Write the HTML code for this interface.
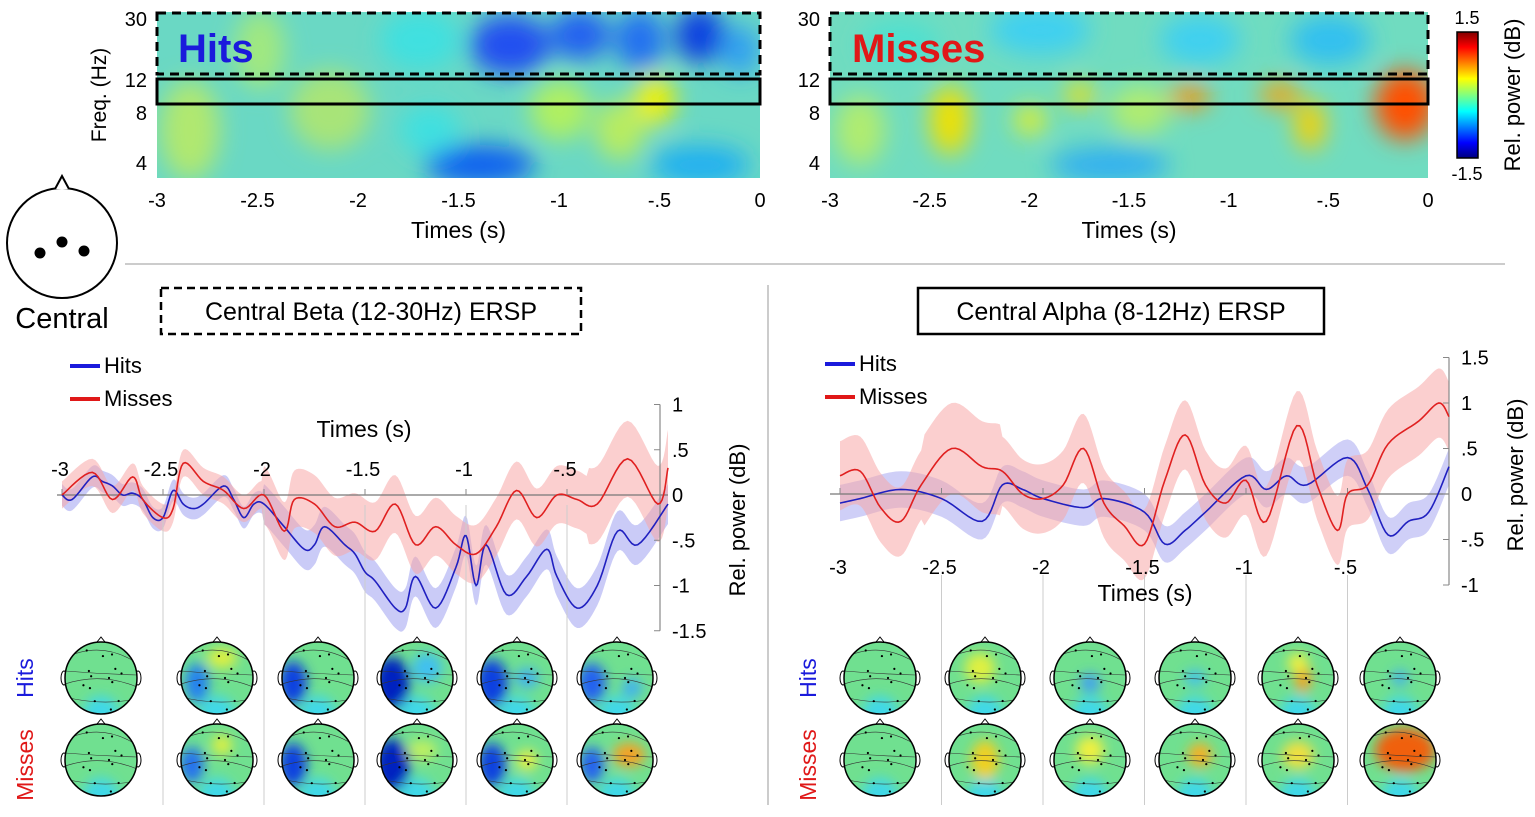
<!DOCTYPE html>
<html><head><meta charset="utf-8"><style>
body{margin:0;background:#fff;width:1535px;height:812px;overflow:hidden;font-family:"Liberation Sans",Arial,sans-serif}
svg text{font-family:"Liberation Sans",Arial,sans-serif}
</style></head><body>
<svg id="s" width="1535" height="812" viewBox="0 0 1535 812" xmlns="http://www.w3.org/2000/svg">
<defs>
<filter id="bl" x="-50%" y="-50%" width="200%" height="200%"><feGaussianBlur stdDeviation="12"/></filter>
<filter id="bl2" x="-50%" y="-50%" width="200%" height="200%"><feGaussianBlur stdDeviation="6"/></filter>
<clipPath id="c1"><rect x="157" y="12" width="603" height="166"/></clipPath>
<clipPath id="c2"><rect x="830" y="12" width="598" height="166"/></clipPath>
<linearGradient id="jet" x1="0" y1="0" x2="0" y2="1">
<stop offset="0" stop-color="#800000"/><stop offset="0.12" stop-color="#ff0000"/><stop offset="0.37" stop-color="#ffff00"/><stop offset="0.5" stop-color="#80ff80"/><stop offset="0.63" stop-color="#00ffff"/><stop offset="0.88" stop-color="#0000ff"/><stop offset="1" stop-color="#000080"/></linearGradient>
</defs>
<!-- spectrogram left -->
<g clip-path="url(#c1)">
<rect x="157" y="12" width="603" height="166" fill="#6ad8c4"/>
<g filter="url(#bl)">
<ellipse cx="190" cy="130" rx="30" ry="50" fill="#b0e870"/>
<ellipse cx="260" cy="50" rx="25" ry="40" fill="#a0e880"/>
<ellipse cx="330" cy="110" rx="40" ry="40" fill="#a8e478"/>
<ellipse cx="420" cy="40" rx="40" ry="30" fill="#40e0e0"/>
<ellipse cx="510" cy="45" rx="40" ry="30" fill="#2050f0"/>
<ellipse cx="580" cy="35" rx="30" ry="25" fill="#2060f0"/>
<ellipse cx="640" cy="40" rx="25" ry="30" fill="#2070f0"/>
<ellipse cx="700" cy="35" rx="25" ry="28" fill="#1040e0"/>
<ellipse cx="740" cy="50" rx="20" ry="25" fill="#30a0f0"/>
<ellipse cx="480" cy="165" rx="55" ry="20" fill="#1060f0"/>
<ellipse cx="700" cy="165" rx="50" ry="20" fill="#20b0f0"/>
<ellipse cx="655" cy="100" rx="20" ry="25" fill="#f0f000"/>
<ellipse cx="560" cy="110" rx="30" ry="30" fill="#b0f060"/>
<ellipse cx="620" cy="130" rx="25" ry="30" fill="#b8ec60"/>
<ellipse cx="430" cy="130" rx="30" ry="25" fill="#40e0e0"/>
</g></g>
<rect x="157" y="13" width="603" height="61" fill="none" stroke="#000" stroke-width="3" stroke-dasharray="9,6"/>
<rect x="157" y="79" width="603" height="25" fill="none" stroke="#000" stroke-width="3"/>
<text x="178" y="62" font-size="40" font-weight="bold" fill="#1a1adc">Hits</text>
<!-- spectrogram right -->
<g clip-path="url(#c2)">
<rect x="830" y="12" width="598" height="166" fill="#70dcc0"/>
<g filter="url(#bl)">
<ellipse cx="900" cy="45" rx="40" ry="25" fill="#50e0d0"/>
<ellipse cx="1040" cy="30" rx="50" ry="25" fill="#40d0f0"/>
<ellipse cx="1200" cy="40" rx="40" ry="25" fill="#40d0f0"/>
<ellipse cx="1330" cy="40" rx="40" ry="25" fill="#30c0f0"/>
<ellipse cx="1110" cy="165" rx="60" ry="18" fill="#30b0f0"/>
<ellipse cx="950" cy="120" rx="20" ry="35" fill="#f0e000"/>
<ellipse cx="1190" cy="97" rx="20" ry="12" fill="#ff9000"/>
<ellipse cx="1080" cy="95" rx="15" ry="12" fill="#f8e000"/>
<ellipse cx="1280" cy="95" rx="20" ry="12" fill="#ffa000"/>
<ellipse cx="1310" cy="125" rx="15" ry="25" fill="#f8d000"/>
<ellipse cx="1405" cy="105" rx="30" ry="35" fill="#ff5000"/>
<ellipse cx="1030" cy="120" rx="15" ry="15" fill="#e8f020"/>
<ellipse cx="1140" cy="110" rx="30" ry="25" fill="#b0ec70"/>
<ellipse cx="860" cy="130" rx="25" ry="35" fill="#b0ec70"/>
</g></g>
<rect x="830" y="13" width="598" height="61" fill="none" stroke="#000" stroke-width="3" stroke-dasharray="9,6"/>
<rect x="830" y="79" width="598" height="25" fill="none" stroke="#000" stroke-width="3"/>
<text x="852" y="62" font-size="40" font-weight="bold" fill="#e01818">Misses</text>
<!-- colorbar -->
<rect x="1457" y="32" width="21" height="126" fill="url(#jet)" stroke="#000" stroke-width="1.5"/>
<g font-size="18" fill="#000">
<text x="1467" y="24" text-anchor="middle">1.5</text>
<text x="1467" y="180" text-anchor="middle">-1.5</text>
<text transform="translate(1520,95) rotate(-90)" text-anchor="middle" font-size="22">Rel. power (dB)</text>
</g>
<g id="spax" font-size="20" fill="#000"></g>
<!-- head -->
<circle cx="62" cy="243" r="55" fill="#fff" stroke="#000" stroke-width="2"/>
<path d="M55 189 L62 176 L69 189" fill="#fff" stroke="#000" stroke-width="2"/>
<circle cx="40" cy="253" r="5.5"/><circle cx="62" cy="242" r="5.5"/><circle cx="84" cy="251" r="5.5"/>
<text x="62" y="328" font-size="29" text-anchor="middle">Central</text>
<line x1="125" y1="264" x2="1505" y2="264" stroke="#ccc" stroke-width="2"/>
<line x1="768" y1="285" x2="768" y2="805" stroke="#ccc" stroke-width="2"/>
<rect x="161" y="288" width="420" height="46" fill="none" stroke="#000" stroke-width="2.5" stroke-dasharray="8,5"/>
<text x="371" y="320" font-size="25" text-anchor="middle">Central Beta (12-30Hz) ERSP</text>
<rect x="918" y="288" width="406" height="46" fill="none" stroke="#000" stroke-width="2.5"/>
<text x="1121" y="320" font-size="25" text-anchor="middle">Central Alpha (8-12Hz) ERSP</text>
<!-- legends -->
<line x1="70" y1="366" x2="100" y2="366" stroke="#1a1adc" stroke-width="4"/><text x="104" y="373" font-size="22">Hits</text>
<line x1="70" y1="399" x2="100" y2="399" stroke="#e01818" stroke-width="4"/><text x="104" y="406" font-size="22">Misses</text>
<line x1="825" y1="364" x2="855" y2="364" stroke="#1a1adc" stroke-width="4"/><text x="859" y="371" font-size="22">Hits</text>
<line x1="825" y1="397" x2="855" y2="397" stroke="#e01818" stroke-width="4"/><text x="859" y="404" font-size="22">Misses</text>
<g id="charts"></g>
<g id="topo"></g>
<g font-size="23">
<text transform="translate(33,678) rotate(-90)" text-anchor="middle" fill="#1a1adc">Hits</text>
<text transform="translate(33,765) rotate(-90)" text-anchor="middle" fill="#e01818">Misses</text>
<text transform="translate(816,678) rotate(-90)" text-anchor="middle" fill="#1a1adc">Hits</text>
<text transform="translate(816,765) rotate(-90)" text-anchor="middle" fill="#e01818">Misses</text>
</g>
</svg>
<script>
var NS="http://www.w3.org/2000/svg";
function el(p,t,a,txt){var e=document.createElementNS(NS,t);for(var k in a)e.setAttribute(k,a[k]);if(txt!=null)e.textContent=txt;p.appendChild(e);return e;}
var sp=document.getElementById('spax');
[[157,760],[830,1428]].forEach(function(a){
 var x0=a[0],x1=a[1];
 [['30',19],['12',80],['8',113],['4',163]].forEach(function(f){el(sp,'text',{x:x0-10,y:f[1]+7,'text-anchor':'end'},f[0]);});
 var labs=['-3','-2.5','-2','-1.5','-1','-.5','0'];
 labs.forEach(function(l,i){el(sp,'text',{x:x0+(x1-x0)*i/6,y:207,'text-anchor':'middle'},l);});
 el(sp,'text',{x:(x0+x1)/2,y:238,'text-anchor':'middle','font-size':23},'Times (s)');
});
el(sp,'text',{transform:'translate(106,95) rotate(-90)','text-anchor':'middle','font-size':21},'Freq. (Hz)');
var ch=document.getElementById('charts');
function smooth(pts){
 var out=[];for(var i=0;i<pts.length-1;i++){var p0=pts[Math.max(0,i-1)],p1=pts[i],p2=pts[i+1],p3=pts[Math.min(pts.length-1,i+2)];
 for(var s=0;s<8;s++){var t=s/8,t2=t*t,t3=t2*t;
 var f=function(a,b,c,d){return 0.5*((2*b)+(-a+c)*t+(2*a-5*b+4*c-d)*t2+(-a+3*b-3*c+d)*t3);};
 out.push([f(p0[0],p1[0],p2[0],p3[0]),f(p0[1],p1[1],p2[1],p3[1])]);}}
 out.push(pts[pts.length-1]);return out;}
function draw(data,X,Y,col,band,fill){
 var s=smooth(data);
 var up=s.map(function(p){return X(p[0])+','+Y(p[1]+band(p[0]))});
 var dn=s.slice().reverse().map(function(p){return X(p[0])+','+Y(p[1]-band(p[0]))});
 el(ch,'polygon',{points:up.concat(dn).join(' '),fill:fill,'fill-opacity':0.55});
 return function(){el(ch,'polyline',{points:s.map(function(p){return X(p[0])+','+Y(p[1])}).join(' '),fill:'none',stroke:col,'stroke-width':1.6});};
}
var XL=function(t){return 668+202*t},YL=function(v){return 495-90.5*v};
var hL=[[-3,0],[-2.95,-0.05],[-2.85,0.2],[-2.8,0.15],[-2.75,0.1],[-2.7,0],[-2.65,0.02],[-2.6,-0.05],[-2.55,-0.25],[-2.5,-0.25],[-2.45,0.05],[-2.4,-0.1],[-2.35,-0.15],[-2.3,-0.1],[-2.2,0.1],[-2.15,-0.05],[-2.1,-0.25],[-2.05,-0.1],[-2,-0.1],[-1.9,-0.35],[-1.8,-0.6],[-1.75,-0.55],[-1.7,-0.35],[-1.6,-0.55],[-1.55,-0.65],[-1.5,-0.85],[-1.45,-0.95],[-1.35,-1.25],[-1.3,-1.25],[-1.25,-0.9],[-1.15,-1.25],[-1.05,-0.8],[-1,-0.45],[-0.95,-1.0],[-0.9,-0.55],[-0.8,-1.1],[-0.7,-0.9],[-0.6,-0.6],[-0.55,-0.9],[-0.45,-1.25],[-0.35,-1.0],[-0.25,-0.4],[-0.15,-0.55],[0,-0.1]];
var mL=[[-3,0],[-2.85,0.25],[-2.75,-0.05],[-2.65,0.2],[-2.6,-0.05],[-2.5,-0.25],[-2.45,-0.15],[-2.4,0.35],[-2.3,0.15],[-2.2,0.05],[-2.1,-0.15],[-2,0],[-1.9,-0.4],[-1.85,-0.05],[-1.75,-0.1],[-1.65,-0.35],[-1.55,-0.3],[-1.45,-0.4],[-1.35,-0.1],[-1.25,-0.55],[-1.15,-0.35],[-1.05,-0.55],[-0.95,-0.65],[-0.85,-0.35],[-0.75,0.05],[-0.65,-0.25],[-0.55,0.0],[-0.45,-0.05],[-0.35,-0.1],[-0.2,0.4],[-0.05,-0.1],[0,0.3]];
var a1=draw(hL,XL,YL,'#2020c0',function(t){return t<-2?0.12:0.22},'#9fa0f0');
var a2=draw(mL,XL,YL,'#e02020',function(t){return t<-2?0.15:(t>-0.4?0.42:0.32)},'#f8a8a8');
var XR=function(t){return 1449+203*t},YR=function(v){return 494-91*v};
var hR=[[-3,-0.1],[-2.9,-0.05],[-2.7,0.05],[-2.5,-0.05],[-2.3,-0.3],[-2.2,0.1],[-2.1,0.05],[-2,-0.05],[-1.8,-0.15],[-1.7,-0.05],[-1.5,-0.2],[-1.4,-0.55],[-1.3,-0.4],[-1.2,-0.2],[-1.0,0.2],[-0.9,0.05],[-0.8,0.2],[-0.7,0.1],[-0.5,0.4],[-0.4,0.05],[-0.3,-0.45],[-0.2,-0.3],[-0.1,-0.2],[0,0.3]];
var mR=[[-3,0.2],[-2.9,0.25],[-2.8,-0.15],[-2.7,-0.3],[-2.6,0.1],[-2.45,0.5],[-2.3,0.3],[-2.2,0.25],[-2.1,0],[-2,-0.05],[-1.9,0.1],[-1.8,0.5],[-1.7,-0.1],[-1.6,-0.35],[-1.5,-0.55],[-1.4,0.15],[-1.3,0.65],[-1.2,0.1],[-1.1,-0.1],[-1.0,0.15],[-0.9,-0.3],[-0.75,0.75],[-0.65,0.1],[-0.55,-0.4],[-0.5,0.0],[-0.4,0.1],[-0.3,0.55],[-0.15,0.8],[-0.05,1.0],[0,0.85]];
var b1=draw(hR,XR,YR,'#2020c0',function(){return 0.2},'#a8a8f0');
var b2=draw(mR,XR,YR,'#e02020',function(t){return (t>-2.6&&t<-2.2)?0.5:0.38},'#f8a8a8');
function axes(X,Y,x0,x1,yax,yt,xlabY,tl,timesY,timesX){
 el(ch,'line',{x1:x0,y1:Y(0),x2:x1,y2:Y(0),stroke:'#777','stroke-width':1.2});
 el(ch,'line',{x1:yax,y1:Y(yt[0][0]),x2:yax,y2:Y(yt[yt.length-1][0]),stroke:'#888','stroke-width':1.2});
 yt.forEach(function(v){el(ch,'line',{x1:yax-6,y1:Y(v[0]),x2:yax,y2:Y(v[0]),stroke:'#888'});el(ch,'text',{x:yax+12,y:Y(v[0])+7,'font-size':20},v[1]);});
 [['-3',-3],['-2.5',-2.5],['-2',-2],['-1.5',-1.5],['-1',-1],['-.5',-0.5]].forEach(function(l){
  el(ch,'line',{x1:X(l[1]),y1:Y(0)-6,x2:X(l[1]),y2:Y(0),stroke:'#888'});
  el(ch,'text',{x:X(l[1])-2,y:xlabY,'text-anchor':'middle','font-size':20},l[0]);
  if(l[1]>-3)el(ch,'line',{x1:X(l[1]),y1:tl,x2:X(l[1]),y2:805,stroke:'#ccc','stroke-width':1});
 });
 el(ch,'text',{x:timesX,y:timesY,'text-anchor':'middle','font-size':23},'Times (s)');
}
axes(XL,YL,57,668,660,[[1,'1'],[0.5,'.5'],[0,'0'],[-0.5,'-.5'],[-1,'-1'],[-1.5,'-1.5']],476,505,437,364);
el(ch,'text',{transform:'translate(745,520) rotate(-90)','text-anchor':'middle','font-size':22},'Rel. power (dB)');
axes(XR,YR,830,1449,1449,[[1.5,'1.5'],[1,'1'],[0.5,'.5'],[0,'0'],[-0.5,'-.5'],[-1,'-1']],574,575,601,1145);
el(ch,'text',{transform:'translate(1523,475) rotate(-90)','text-anchor':'middle','font-size':22},'Rel. power (dB)');
a1();a2();b1();b2();
var tp=document.getElementById('topo');
var defs=document.querySelector('defs');
var id=0;
function topo(cx,cy,blobs){
 id++;
 var cp=el(defs,'clipPath',{id:'tc'+id});el(cp,'circle',{cx:cx,cy:cy,r:36});
 el(tp,'ellipse',{cx:cx-37,cy:cy,rx:3,ry:7,fill:'#fff',stroke:'#000'});
 el(tp,'ellipse',{cx:cx+37,cy:cy,rx:3,ry:7,fill:'#fff',stroke:'#000'});
 var g=el(tp,'g',{'clip-path':'url(#tc'+id+')'});
 el(g,'rect',{x:cx-40,y:cy-40,width:80,height:80,fill:'#70e090'});
 var g2=el(g,'g',{filter:'url(#bl2)'});
 el(g2,'circle',{cx:cx,cy:cy+36,r:18,fill:'#40d8e8'});
 blobs.forEach(function(b){el(g2,'ellipse',{cx:cx+b[0],cy:cy+b[1],rx:b[2],ry:b[3],fill:b[4]});});
 for(var i=0;i<4;i++)el(g,'path',{d:'M'+(cx-36)+' '+(cy-20+i*13)+' Q'+(cx)+' '+(cy-30+i*16+(i%2?10:-8))+' '+(cx+36)+' '+(cy-15+i*12),fill:'none',stroke:'#333','stroke-width':0.6});
 for(var j=0;j<14;j++){var a=j*2.4,r=8+(j*7)%26;el(g,'circle',{cx:cx+r*Math.cos(a),cy:cy+r*Math.sin(a),r:1.1,fill:'#000'});}
 el(tp,'circle',{cx:cx,cy:cy,r:36,fill:'none',stroke:'#000','stroke-width':1.5});
 el(tp,'path',{d:'M'+(cx-4)+' '+(cy-36)+' L'+cx+' '+(cy-41)+' L'+(cx+4)+' '+(cy-36),fill:'none',stroke:'#000'});
}
var LX=[101,217,318,417,517,617],RX=[880,985,1090,1195,1298,1400];
var lh=[[],[[-20,5,12,20,'#2080f0'],[5,-20,15,10,'#e0f040']],[[-25,5,14,22,'#1040e0']],[[-25,5,18,26,'#0020c0'],[10,-10,15,15,'#40c0f0']],[[-25,5,16,24,'#1040e0'],[10,0,12,10,'#40b0f0']],[[-25,5,14,20,'#2060f0'],[15,10,10,10,'#40b0f0']]];
var lm=[[],[[-25,5,12,18,'#2070f0'],[5,-15,10,10,'#e0f040']],[[-25,5,14,22,'#1040e0']],[[-25,5,18,26,'#0020c0'],[5,-10,15,10,'#c0f060']],[[-25,5,14,22,'#1040e0'],[10,0,10,10,'#f0f040']],[[-25,5,12,18,'#2060f0'],[12,-5,16,12,'#f8a020']]];
var rh=[[],[[-5,-10,15,15,'#e0f040']],[[0,5,10,10,'#40a0f0']],[[0,0,10,8,'#40c0f0']],[[5,0,8,15,'#f8a020'],[0,-15,10,10,'#f0f040']],[[0,0,8,8,'#40b0f0']]];
var rm=[[],[[0,0,14,20,'#f0d020']],[[0,-10,14,14,'#f0f040']],[[5,-5,12,12,'#f8b020']],[[0,-5,16,14,'#f0e040']],[[5,-10,30,22,'#f06010']]];
LX.forEach(function(x,i){topo(x,678,lh[i]);topo(x,760,lm[i]);});
RX.forEach(function(x,i){topo(x,678,rh[i]);topo(x,760,rm[i]);});
</script>
</body></html>
